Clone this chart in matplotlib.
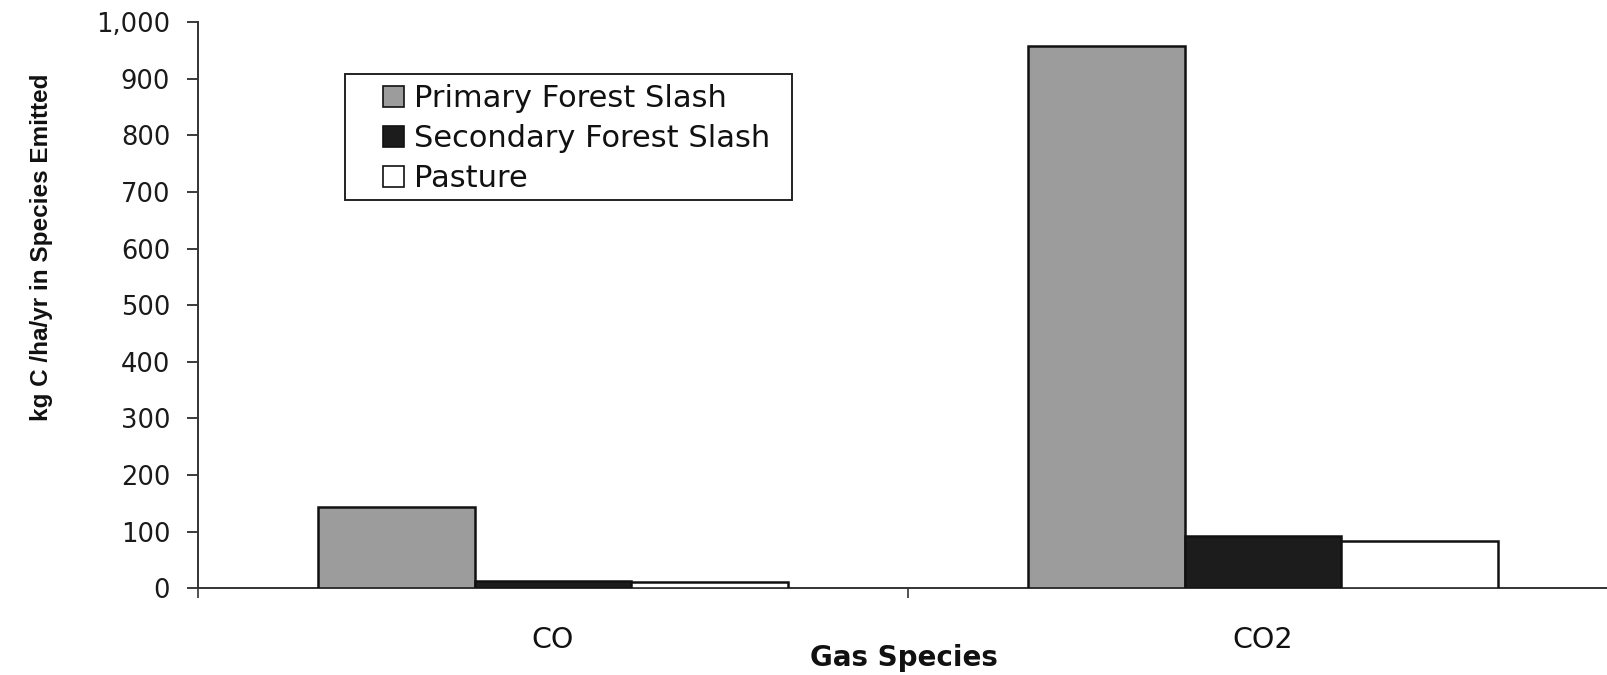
import matplotlib
matplotlib.use("Agg")
import matplotlib.pyplot as plt
import numpy as np
from matplotlib.patches import Rectangle

# ---- data ----
categories = ["CO", "CO2"]
series_names = ["Primary Forest Slash", "Secondary Forest Slash", "Pasture"]
primary = [143, 958]
secondary = [13, 93]
pasture = [11, 83]
y_ticks = [0, 100, 200, 300, 400, 500, 600, 700, 800, 900, 1000]
y_tick_labels = ["0", "100", "200", "300", "400", "500", "600", "700", "800", "900", "1,000"]

plt.rcParams["font.family"] = ["DejaVu Sans"]

W, H = 1607, 675
fig = plt.figure(figsize=(W / 100, H / 100), dpi=100)
fig.patch.set_facecolor("white")

# axes placement (pixels): left 198, right 1618, top 22.3 (1000), bottom 588.3 (0)
left, right, top, bottom = 198, 1618, 22.3, 588.3
ax = fig.add_axes([left / W, (H - bottom) / H, (right - left) / W, (bottom - top) / H])
ax.set_facecolor("white")

x = np.arange(len(categories))
bw = 0.221
colors = ["#9c9c9c", "#1c1c1c", "#ffffff"]
data = [primary, secondary, pasture]
handles = []
for i, (vals, name, col) in enumerate(zip(data, series_names, colors)):
    b = ax.bar(x + (i - 1) * bw, vals, width=bw, color=col, edgecolor="#111111",
               linewidth=1.8, label=name, zorder=3)
    handles.append(b)

ax.set_xlim(-0.5, 1.5)
ax.set_ylim(0, 1000)
ax.set_yticks(y_ticks)
ax.set_yticklabels(y_tick_labels)
ax.tick_params(axis="y", direction="out", length=8, width=1.2, pad=12,
               labelsize=18.5, colors="#1a1a1a")

# major x ticks at category boundaries (no labels), minor ticks for category labels
ax.set_xticks([-0.5, 0.5, 1.5])
ax.set_xticklabels(["", "", ""])
ax.tick_params(axis="x", which="major", direction="out", length=7, width=1.2, colors="#333333")
ax.set_xticks(x, minor=True)
ax.set_xticklabels(categories, minor=True)
ax.tick_params(axis="x", which="minor", length=0, pad=27, labelsize=20.5, labelcolor="#111111")

for s in ["top", "right"]:
    ax.spines[s].set_visible(False)
for s in ["left", "bottom"]:
    ax.spines[s].set_color("#333333")
    ax.spines[s].set_linewidth(1.4)

# axis titles
fig.text(42 / W, (H - 247) / H, "kg C /ha/yr in Species Emitted", rotation=90,
         ha="center", va="center", fontsize=17.5, fontweight="bold", color="#111111",
         family=["Liberation Sans", "DejaVu Sans"])
fig.text(904 / W, (H - 666) / H, "Gas Species", ha="center", va="baseline",
         fontsize=20, fontweight="bold", color="#111111")

# legend
fs_leg = 22
leg = fig.legend(handles=handles, labels=series_names, loc="upper left",
                 bbox_to_anchor=(383 / W, (H - 84) / H),
                 frameon=False, fontsize=fs_leg, handlelength=0.68, handleheight=0.68,
                 handletextpad=0.32, labelspacing=0.36, borderpad=0.0, borderaxespad=0.0)
for t in leg.get_texts():
    t.set_color("#111111")
for h in leg.legend_handles:
    h.set_linewidth(1.2)

fig.canvas.draw()
bb = leg.get_window_extent()
pad_left, pad_right, pad_top, pad_bottom = 38, 22, 10, 7
rect = Rectangle((bb.x0 - pad_left, bb.y0 - pad_bottom),
                 bb.width + pad_left + pad_right, bb.height + pad_top + pad_bottom,
                 transform=None, fill=False, edgecolor="#222222", linewidth=1.4, zorder=5)
fig.add_artist(rect)

fig.savefig("out.png", dpi=100, facecolor="white")
